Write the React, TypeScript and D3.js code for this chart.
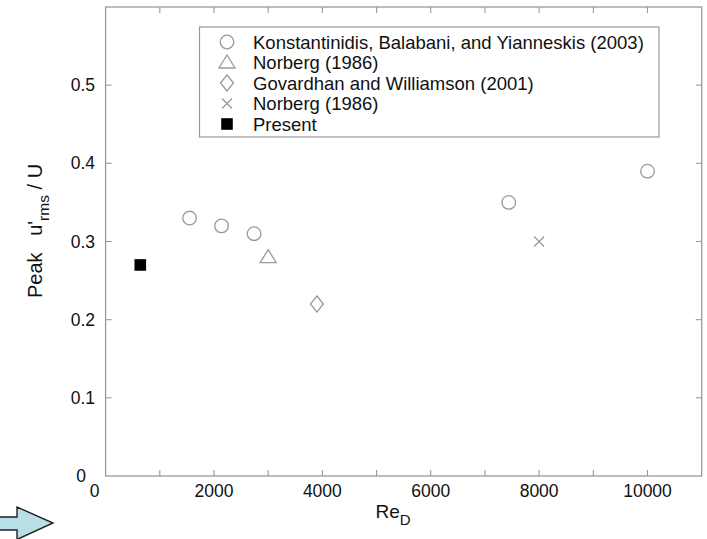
import React from "react";
import * as d3 from "d3";

// Peak streamwise r.m.s. velocity fluctuation against Reynolds number
const konstantinidisRe = [1550, 2140, 2740, 7440, 10000];
const konstantinidisPeak = [0.33, 0.32, 0.31, 0.35, 0.39];
const norbergTriRe = [3000];
const norbergTriPeak = [0.28];
const govardhanRe = [3900];
const govardhanPeak = [0.22];
const norbergCrossRe = [8000];
const norbergCrossPeak = [0.3];
const presentRe = [640];
const presentPeak = [0.27];

const xTickLabels = [2000, 4000, 6000, 8000, 10000];
const yTickLabels = [0.1, 0.2, 0.3, 0.4, 0.5];

const legendLabels = [
  "Konstantinidis, Balabani, and Yianneskis (2003)",
  "Norberg (1986)",
  "Govardhan and Williamson (2001)",
  "Norberg (1986)",
  "Present",
];

const W = 707;
const H = 539;
const left = 105.6;
const right = 701.7;
const top = 7;
const bottom = 476;

const FONT = "'Liberation Sans', Arial, sans-serif";
const GREY = "#9a9a9a";

type Shape = "circle" | "triangle" | "diamond" | "cross" | "square";

function Marker({ shape, x, y }: { shape: Shape; x: number; y: number }) {
  const sw = 1.3;
  if (shape === "circle")
    return <circle cx={x} cy={y} r={6.8} fill="none" stroke={GREY} strokeWidth={sw} />;
  if (shape === "triangle") {
    const p = `M${x},${y - 7.5} L${x + 8},${y + 5.5} L${x - 8},${y + 5.5} Z`;
    return <path d={p} fill="none" stroke={GREY} strokeWidth={sw} />;
  }
  if (shape === "diamond") {
    const p = `M${x},${y - 8} L${x + 6.5},${y} L${x},${y + 8} L${x - 6.5},${y} Z`;
    return <path d={p} fill="none" stroke={GREY} strokeWidth={sw} />;
  }
  if (shape === "cross") {
    const s = 5;
    const p = `M${x - s},${y - s} L${x + s},${y + s} M${x - s},${y + s} L${x + s},${y - s}`;
    return <path d={p} fill="none" stroke={GREY} strokeWidth={sw} />;
  }
  return <rect x={x - 5.8} y={y - 5.8} width={11.6} height={11.6} fill="#000" />;
}

export default function App() {
  const x = d3.scaleLinear().domain([0, 11000]).range([left, right]);
  const y = d3.scaleLinear().domain([0, 0.6]).range([bottom, top]);

  const xMinor = d3.range(1000, 11000, 1000);
  const yMinor = d3.range(0.1, 0.6, 0.1);

  const series: { shape: Shape; xs: number[]; ys: number[] }[] = [
    { shape: "circle", xs: konstantinidisRe, ys: konstantinidisPeak },
    { shape: "triangle", xs: norbergTriRe, ys: norbergTriPeak },
    { shape: "diamond", xs: govardhanRe, ys: govardhanPeak },
    { shape: "cross", xs: norbergCrossRe, ys: norbergCrossPeak },
    { shape: "square", xs: presentRe, ys: presentPeak },
  ];

  const legendShapes: Shape[] = ["circle", "triangle", "diamond", "cross", "square"];

  return (
    <svg
      width={W}
      height={H}
      style={{ position: "absolute", left: 0, top: 0, background: "#fff" }}
      fontFamily={FONT}
    >
      {/* frame */}
      <rect x={left} y={top} width={right - left} height={bottom - top} fill="none" stroke={GREY} strokeWidth={1.3} />

      {/* inward ticks */}
      {xMinor.map((v) => (
        <g key={"xt" + v}>
          <line x1={x(v)} x2={x(v)} y1={bottom} y2={bottom - 6} stroke={GREY} strokeWidth={1.1} />
          <line x1={x(v)} x2={x(v)} y1={top} y2={top + 6} stroke={GREY} strokeWidth={1.1} />
        </g>
      ))}
      {yMinor.map((v) => (
        <g key={"yt" + v}>
          <line x1={left} x2={left + 6} y1={y(v)} y2={y(v)} stroke={GREY} strokeWidth={1.1} />
          <line x1={right} x2={right - 6} y1={y(v)} y2={y(v)} stroke={GREY} strokeWidth={1.1} />
        </g>
      ))}

      {/* tick labels */}
      <text x={x(0) - 11} y={497} fontSize={17.5} textAnchor="middle" fill="#111">0</text>
      {xTickLabels.map((v) => (
        <text key={"xl" + v} x={x(v)} y={497} fontSize={17.5} textAnchor="middle" fill="#111">
          {v}
        </text>
      ))}
      <text x={86} y={y(0) + 6} fontSize={17.5} textAnchor="end" fill="#111">0</text>
      {yTickLabels.map((v) => (
        <text key={"yl" + v} x={95} y={y(v) + 6} fontSize={17.5} textAnchor="end" fill="#111">
          {d3.format(".1f")(v)}
        </text>
      ))}

      {/* axis titles */}
      <text x={393} y={518} fontSize={19} textAnchor="middle" fill="#111">
        Re<tspan fontSize={15} dy={7}>D</tspan>
      </text>
      <text transform="translate(42,231) rotate(-90)" fontSize={20} textAnchor="middle" fill="#111">
        Peak{"\u00a0\u00a0\u00a0"}u'<tspan fontSize={15.5} dy={7}>rms</tspan>
        <tspan dy={-7}>{"\u00a0"}/ U</tspan>
      </text>

      {/* data */}
      {series.map((s, i) =>
        s.xs.map((v, j) => <Marker key={`m${i}-${j}`} shape={s.shape} x={x(v)} y={y(s.ys[j])} />)
      )}

      {/* legend */}
      <rect x={199.5} y={27} width={459.5} height={110} fill="#fff" stroke={GREY} strokeWidth={1.2} />
      {legendLabels.map((t, i) => {
        const cy = 42 + i * 20.5;
        return (
          <g key={"lg" + i}>
            <Marker shape={legendShapes[i]} x={227} y={cy} />
            <text x={253} y={cy + 6.5} fontSize={18.5} fill="#111">
              {t}
            </text>
          </g>
        );
      })}

      {/* arrow in the lower-left corner */}
      <path
        d="M-5,517 L17,517 L17,507 L53,523 L17,539.5 L17,530 L-5,530 Z"
        fill="#b9dfe6"
        stroke="#222"
        strokeWidth={1.4}
      />
    </svg>
  );
}
